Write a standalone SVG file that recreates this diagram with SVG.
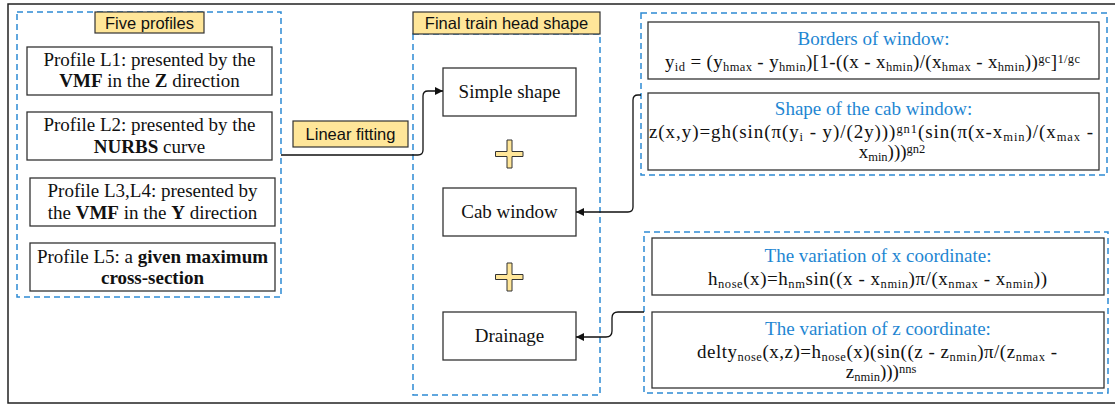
<svg xmlns="http://www.w3.org/2000/svg" width="1115" height="407" viewBox="0 0 1115 407">
<style>
.frame{fill:none;stroke:#222;stroke-width:1.5}
.grp{fill:none;stroke:#2E8BD3;stroke-width:1.5;stroke-dasharray:6,4}
.lbl{fill:#FFE699;stroke:#333;stroke-width:1.2}
.box{fill:#fff;stroke:#333;stroke-width:1.3}
.t{font-family:"Liberation Serif",serif;font-size:19px;fill:#111;text-anchor:middle}
.h{font-family:"Liberation Serif",serif;font-size:19px;fill:#1E86D2;text-anchor:middle}
.s{font-family:"Liberation Sans",sans-serif;font-size:16.5px;fill:#111;text-anchor:middle}
.b{font-weight:bold}
.sb{font-size:12.5px;baseline-shift:-3px}
.sp{font-size:12.5px;baseline-shift:5px}
.plus{fill:#FFE699;stroke:#333;stroke-width:1}
.con{fill:none;stroke:#111;stroke-width:1.3}
</style>
<defs>
<marker id="arr" viewBox="0 0 10 10" refX="10" refY="5" markerWidth="8" markerHeight="8" markerUnits="userSpaceOnUse" orient="auto">
<path d="M0,0 L10,5 L0,10 z" fill="#111"/>
</marker>
</defs>
<rect class="frame" x="8" y="4" width="1120" height="399"/>

<g id="group-five-profiles">
<rect class="grp" x="17" y="12" width="264" height="285"/>
<rect class="lbl" x="95" y="12" width="109" height="21"/>
<text class="s" x="149.5" y="28.5">Five profiles</text>
</g>
<g id="profile-l1">
<rect class="box" x="27" y="47" width="245" height="48"/>
<text class="t" x="149.5" y="66">Profile L1: presented by the</text>
<text class="t" x="149.5" y="87"><tspan class="b">VMF</tspan> in the <tspan class="b">Z</tspan> direction</text>
</g>
<g id="profile-l2">
<rect class="box" x="27" y="112" width="245" height="48"/>
<text class="t" x="149.5" y="131">Profile L2: presented by the</text>
<text class="t" x="149.5" y="153"><tspan class="b">NURBS</tspan> curve</text>
</g>
<g id="profile-l3l4">
<rect class="box" x="30" y="178" width="245" height="48"/>
<text class="t" x="152.5" y="197">Profile L3,L4: presented by</text>
<text class="t" x="152.5" y="219">the <tspan class="b">VMF</tspan> in the <tspan class="b">Y</tspan> direction</text>
</g>
<g id="profile-l5">
<rect class="box" x="30" y="243" width="245" height="48"/>
<text class="t" x="152.5" y="263">Profile L5: a <tspan class="b">given maximum</tspan></text>
<text class="t" x="152.5" y="284"><tspan class="b">cross-section</tspan></text>
</g>

<g id="linear-fitting">
<rect class="lbl" x="293" y="121" width="115" height="26"/>
<text class="s" x="350.5" y="139.5">Linear fitting</text>
</g>

<g id="group-final">
<rect class="grp" x="413" y="34" width="187" height="361"/>
<rect class="lbl" x="413" y="12" width="187" height="22"/>
<text class="s" x="506.5" y="29">Final train head shape</text>
</g>
<g id="simple-shape">
<rect class="box" x="443" y="68" width="133" height="48"/>
<text class="t" x="509.5" y="98">Simple shape</text>
</g>
<g id="plus-1">
<path class="plus" d="M507,140 h5 v11.5 h11 v5 h-11 v11.5 h-5 v-11.5 h-11.5 v-5 h11.5 z"/>
</g>
<g id="cab-window">
<rect class="box" x="443" y="188" width="133" height="48"/>
<text class="t" x="509.5" y="218">Cab window</text>
</g>
<g id="plus-2">
<path class="plus" d="M507,263 h5 v11.5 h11 v5 h-11 v11.5 h-5 v-11.5 h-11.5 v-5 h11.5 z"/>
</g>
<g id="drainage">
<rect class="box" x="443" y="312" width="133" height="48"/>
<text class="t" x="509.5" y="342">Drainage</text>
</g>

<g id="group-window">
<rect class="grp" x="641" y="13" width="466" height="162"/>
</g>
<g id="borders-of-window">
<rect class="box" x="648" y="22" width="451" height="57"/>
<text class="h" x="873.5" y="45">Borders of window:</text>
<text class="t" x="872.5" y="68" textLength="415" lengthAdjust="spacing">y<tspan class="sb">id</tspan> = (y<tspan class="sb">hmax</tspan> - y<tspan class="sb">hmin</tspan>)[1-((x - x<tspan class="sb">hmin</tspan>)/(x<tspan class="sb">hmax</tspan> - x<tspan class="sb">hmin</tspan>))<tspan class="sp">gc</tspan>]<tspan class="sp">1/gc</tspan></text>
</g>
<g id="shape-of-cab-window">
<rect class="box" x="648" y="93" width="451" height="77"/>
<text class="h" x="873.5" y="115">Shape of the cab window:</text>
<text class="t" x="871" y="138" textLength="444" lengthAdjust="spacing">z(x,y)=gh(sin(π(y<tspan class="sb">i</tspan> - y)/(2y)))<tspan class="sp">gn1</tspan>(sin(π(x-x<tspan class="sb">min</tspan>)/(x<tspan class="sb">max</tspan> -</text>
<text class="t" x="892" y="158">x<tspan class="sb">min</tspan>)))<tspan class="sp">gn2</tspan></text>
</g>

<g id="group-nose">
<rect class="grp" x="644" y="232" width="464" height="161"/>
</g>
<g id="variation-x">
<rect class="box" x="652" y="238" width="452" height="57"/>
<text class="h" x="878" y="262">The variation of x coordinate:</text>
<text class="t" x="877.5" y="285" textLength="339" lengthAdjust="spacing">h<tspan class="sb">nose</tspan>(x)=h<tspan class="sb">nm</tspan>sin((x - x<tspan class="sb">nmin</tspan>)π/(x<tspan class="sb">nmax</tspan> - x<tspan class="sb">nmin</tspan>))</text>
</g>
<g id="variation-z">
<rect class="box" x="652" y="312" width="452" height="76"/>
<text class="h" x="878" y="335">The variation of z coordinate:</text>
<text class="t" x="877" y="358" textLength="360" lengthAdjust="spacing">delty<tspan class="sb">nose</tspan>(x,z)=h<tspan class="sb">nose</tspan>(x)(sin((z - z<tspan class="sb">nmin</tspan>)π/(z<tspan class="sb">nmax</tspan> -</text>
<text class="t" x="881" y="378">z<tspan class="sb">nmin</tspan>)))<tspan class="sp">nns</tspan></text>
</g>

<g id="connectors">
<path class="con" d="M281,155 H418 Q423,155 423,150 V96 Q423,91 428,91 H443" marker-end="url(#arr)"/>
<path class="con" d="M641,95 H638 Q633,95 633,100 V207 Q633,212 628,212 H576" marker-end="url(#arr)"/>
<path class="con" d="M644,312 H618 Q612,312 612,318 V331 Q612,337 606,337 H576" marker-end="url(#arr)"/>
</g>
</svg>
